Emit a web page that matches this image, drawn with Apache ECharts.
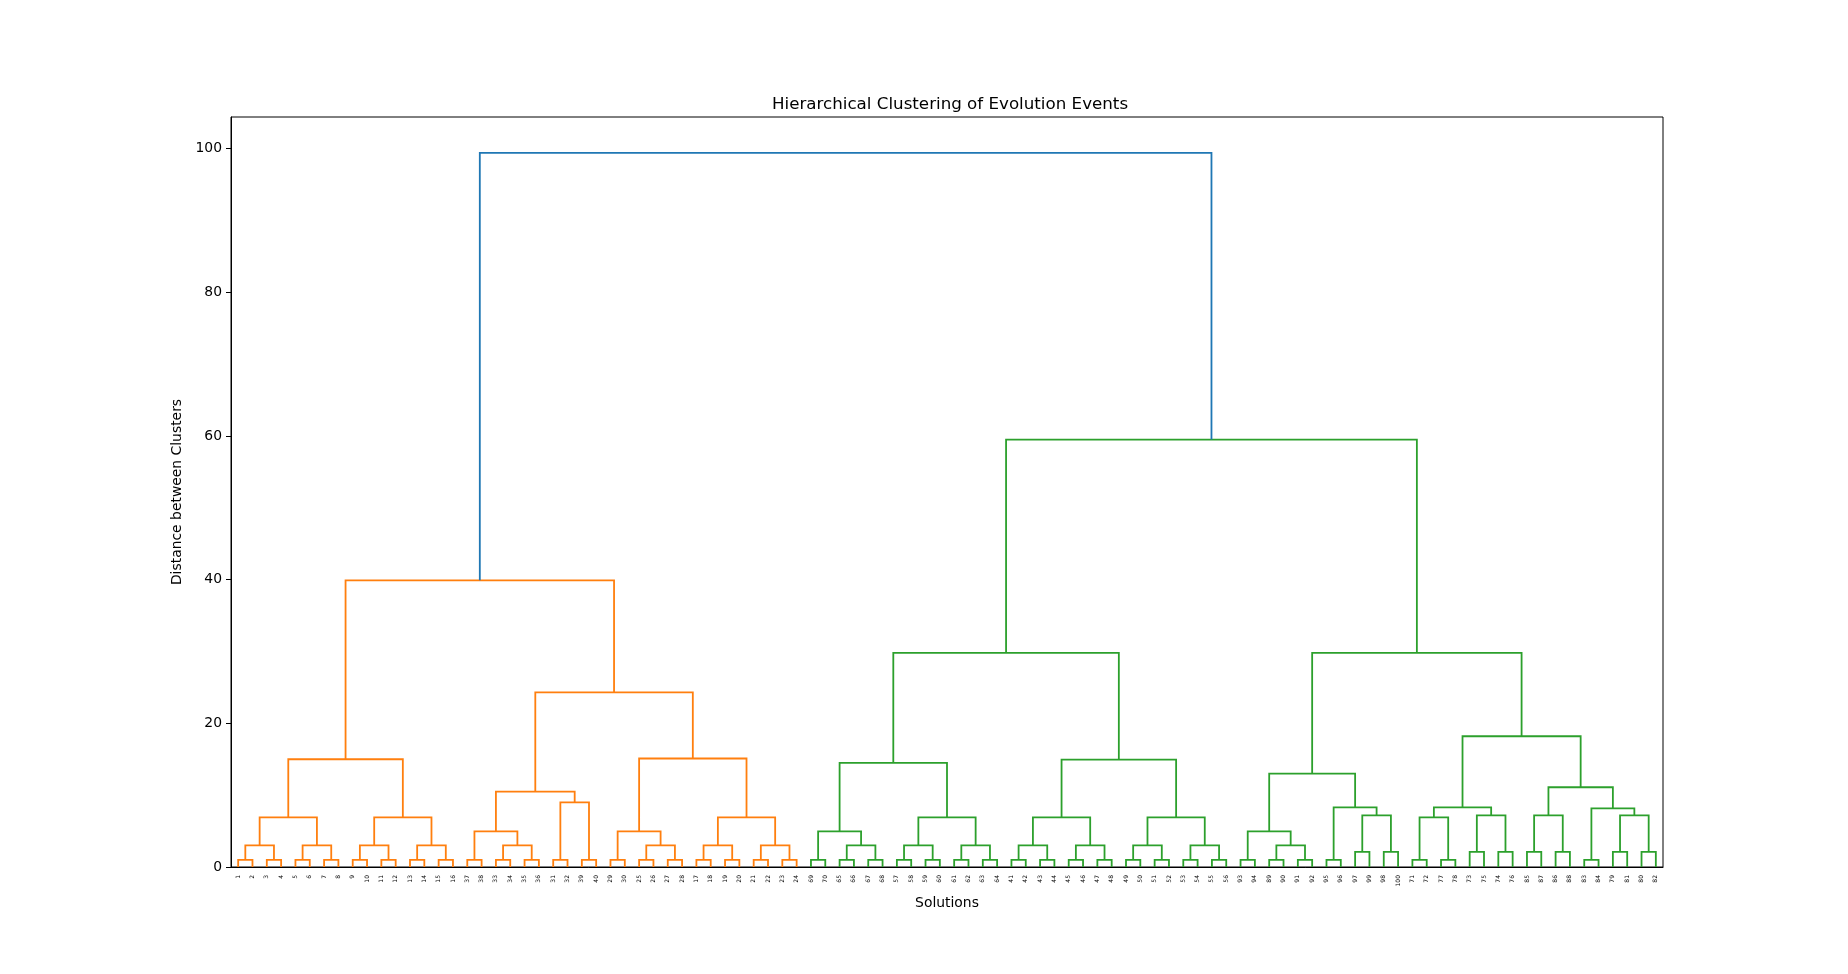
<!DOCTYPE html>
<html><head><meta charset="utf-8">
<script src="https://cdn.jsdelivr.net/npm/echarts@6/dist/echarts.min.js"></script>
<style>html,body{margin:0;padding:0;background:#fff}#c{width:1848px;height:974px}</style>
</head><body><div id="c"></div>
<script>
// Leaf order along the x axis (labels)
const leafOrder = [1,2,3,4,5,6,7,8,9,10,11,12,13,14,15,16,37,38,33,34,35,36,31,32,39,40,29,30,25,26,27,28,17,18,19,20,21,22,23,24,
  69,70,65,66,67,68,57,58,59,60,61,62,63,64,41,42,43,44,45,46,47,48,49,50,51,52,53,54,55,56,
  93,94,89,90,91,92,95,96,97,99,98,100,71,72,77,78,73,75,74,76,85,87,86,88,83,84,79,81,80,82];

// Merges: [name, left, right, height]; numbers are leaf labels, strings are earlier merges
const orangeMerges = [
  ["a0",1,2,1.0],["a1",3,4,1.0],["a2",5,6,1.0],["a3",7,8,1.0],
  ["a4","a0","a1",3.0],["a5","a2","a3",3.0],["a6","a4","a5",6.9],
  ["a7",9,10,1.0],["a8",11,12,1.0],["a9",13,14,1.0],["a10",15,16,1.0],
  ["a11","a7","a8",3.0],["a12","a9","a10",3.0],["a13","a11","a12",6.9],
  ["a14","a6","a13",15.0],
  ["a15",37,38,1.0],["a16",33,34,1.0],["a17",35,36,1.0],["a18","a16","a17",3.0],["a19","a15","a18",4.95],
  ["a20",31,32,1.0],["a21",39,40,1.0],["a22","a20","a21",9.0],["a23","a19","a22",10.5],
  ["a24",29,30,1.0],["a25",25,26,1.0],["a26",27,28,1.0],["a27","a25","a26",3.0],["a28","a24","a27",4.95],
  ["a29",17,18,1.0],["a30",19,20,1.0],["a31",21,22,1.0],["a32",23,24,1.0],
  ["a33","a29","a30",3.0],["a34","a31","a32",3.0],["a35","a33","a34",6.9],
  ["a36","a28","a35",15.1],["a37","a23","a36",24.3],["a38","a14","a37",39.9]
];
const greenLeftMerges = [
  ["g1",69,70,1.0],["g2",65,66,1.0],["g3",67,68,1.0],["g4","g2","g3",3.0],["g5","g1","g4",4.95],
  ["g6",57,58,1.0],["g7",59,60,1.0],["g8",61,62,1.0],["g9",63,64,1.0],
  ["g10","g6","g7",3.0],["g11","g8","g9",3.0],["g12","g10","g11",6.9],["g13","g5","g12",14.5],
  ["g14",41,42,1.0],["g15",43,44,1.0],["g16",45,46,1.0],["g17",47,48,1.0],
  ["g18","g14","g15",3.0],["g19","g16","g17",3.0],["g20","g18","g19",6.9],
  ["g21",49,50,1.0],["g22",51,52,1.0],["g23",53,54,1.0],["g24",55,56,1.0],
  ["g25","g21","g22",3.0],["g26","g23","g24",3.0],["g27","g25","g26",6.9],
  ["g28","g20","g27",14.95],["g29","g13","g28",29.8]
];
const greenRightMerges = [
  ["h1",93,94,1.0],["h2",89,90,1.0],["h3",91,92,1.0],["h4","h2","h3",3.0],["h5","h1","h4",4.95],
  ["h6",95,96,1.0],["h7",97,99,2.1],["h8",98,100,2.1],["h9","h7","h8",7.2],["h10","h6","h9",8.3],
  ["h11","h5","h10",13.0],
  ["h12",71,72,1.0],["h13",77,78,1.0],["h14","h12","h13",6.9],
  ["h15",73,75,2.1],["h16",74,76,2.1],["h17","h15","h16",7.2],["h18","h14","h17",8.3],
  ["h19",85,87,2.1],["h20",86,88,2.1],["h21","h19","h20",7.2],
  ["h22",83,84,1.0],["h23",79,81,2.1],["h24",80,82,2.1],["h25","h23","h24",7.2],["h26","h22","h25",8.15],
  ["h27","h21","h26",11.1],["h28","h18","h27",18.2],["h29","h11","h28",29.8]
];
const topMerges = [["g30","g29","h29",59.5],["root","a38","g30",99.4]];

const yTicks = [0,20,40,60,80,100];

const palette = ['#1f77b4','#ff7f0e','#2ca02c'];
const colorThreshold = 0.7 * 99.4;

// Build node positions
const nodes = {};
leafOrder.forEach((lab, i) => { nodes[lab] = {x: i + 0.5, h: 0}; });
const allMerges = orangeMerges.concat(greenLeftMerges, greenRightMerges, topMerges);
const children = {};
allMerges.forEach(m => {
  const L = nodes[m[1]], R = nodes[m[2]];
  nodes[m[0]] = {x: (L.x + R.x) / 2, h: m[3]};
  children[m[0]] = [m[1], m[2]];
});
// assign colors
const colorOf = {};
let nextColor = 1;
function paint(name, c) {
  const n = nodes[name];
  if (!children[name]) return;
  let col = c;
  if (c === 0 && n.h < colorThreshold) { col = nextColor++; }
  colorOf[name] = col;
  children[name].forEach(ch => paint(ch, col));
}
paint('root', 0);

const links = allMerges.map(m => {
  const L = nodes[m[1]], R = nodes[m[2]];
  return [L.x, L.h, R.x, R.h, m[3], colorOf[m[0]]];
});

const chart = echarts.init(document.getElementById('c'), null, {renderer: 'canvas'});
const font = 'DejaVu Sans';
chart.setOption({
  backgroundColor: '#fff',
  animation: false,
  title: {
    text: 'Hierarchical Clustering of Evolution Events',
    left: 767, top: 91,
    textStyle: {fontFamily: font, fontSize: 16.7, fontWeight: 'normal', color: '#000'}
  },
  grid: {left: 231, right: 185, top: 117, bottom: 107, show: true, borderColor: '#000', borderWidth: 1, containLabel: false},
  xAxis: [{
    type: 'category',
    data: leafOrder.map(String),
    boundaryGap: true,
    axisLine: {show: true, lineStyle: {color: '#000', width: 1}},
    axisTick: {show: false},
    axisLabel: {interval: 0, rotate: 90, fontSize: 6, color: '#000', fontFamily: font, margin: 8},
    name: 'Solutions', nameLocation: 'middle', nameGap: 29,
    nameTextStyle: {fontFamily: font, fontSize: 13.9, color: '#000'},
    splitLine: {show: false}
  }, {
    type: 'value', min: 0, max: 100, show: false
  }],
  yAxis: {
    type: 'value', min: 0, max: 104.4, interval: 20,
    axisLine: {show: true, lineStyle: {color: '#000', width: 1}},
    axisTick: {show: true, length: 5, inside: false, lineStyle: {color: '#000'}, customValues: yTicks},
    axisLabel: {fontFamily: font, fontSize: 13.9, color: '#000', margin: 9, customValues: yTicks},
    splitLine: {show: false},
    name: 'Distance between Clusters', nameLocation: 'middle', nameGap: 41,
    nameTextStyle: {fontFamily: font, fontSize: 13.9, color: '#000'}
  },
  series: [{
    type: 'custom',
    xAxisIndex: 1,
    yAxisIndex: 0,
    data: links,
    encode: {x: [0, 2], y: [1, 4]},
    renderItem: function (params, api) {
      const p1 = api.coord([api.value(0), api.value(1)]);
      const p2 = api.coord([api.value(0), api.value(4)]);
      const p3 = api.coord([api.value(2), api.value(4)]);
      const p4 = api.coord([api.value(2), api.value(3)]);
      return {
        type: 'polyline',
        shape: {points: [p1, p2, p3, p4]},
        style: {stroke: palette[api.value(5)], lineWidth: 1.8, fill: null}
      };
    },
    silent: true
  }]
});
</script>
</body></html>
